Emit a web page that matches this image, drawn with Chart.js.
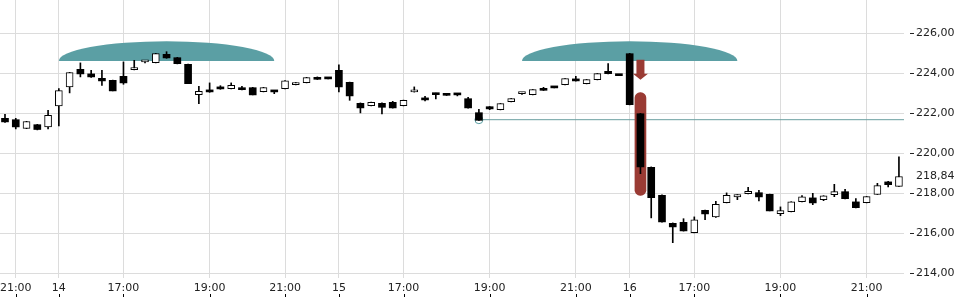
<!DOCTYPE html>
<html><head><meta charset="utf-8">
<script src="https://cdn.jsdelivr.net/npm/chart.js@4.4.1/dist/chart.umd.min.js"></script>
<style>html,body{margin:0;padding:0;background:#fff;overflow:hidden}</style>
</head><body>
<canvas id="c" width="960" height="300" style="display:block;width:960px;height:300px"></canvas>
<script>
// ---- data (15-minute candles) ----
const opens  = [221.75,221.68,221.24,221.43,221.32,222.37,223.32,224.20,223.97,223.75,223.65,223.85,224.18,224.57,224.53,224.95,224.78,224.45,222.93,223.13,223.30,223.23,223.28,223.28,223.08,223.10,223.23,223.43,223.53,223.78,223.75,224.15,223.55,222.50,222.38,222.50,222.55,222.38,223.07,222.75,223.00,222.94,222.95,222.73,222.03,222.33,222.18,222.58,222.98,222.93,223.25,223.30,223.43,223.72,223.48,223.68,224.10,223.91,224.98,221.98,219.30,217.90,216.50,216.55,216.03,217.15,216.82,217.53,217.82,217.98,218.03,217.95,216.98,217.08,217.58,217.77,217.68,217.93,218.08,217.57,217.53,217.95,218.57,218.35];
const highs  = [221.95,221.75,221.60,221.45,222.15,223.23,224.05,224.52,224.15,224.15,223.66,224.57,224.65,224.62,225.00,225.08,224.80,224.46,223.35,223.52,223.38,223.52,223.35,223.30,223.30,223.10,223.63,223.54,223.80,223.82,223.75,224.42,223.56,222.52,222.56,222.52,222.60,222.66,223.32,222.85,223.01,222.95,222.96,222.80,222.20,222.34,222.49,222.74,223.05,223.19,223.30,223.30,223.74,223.85,223.69,223.99,224.48,223.91,225.00,222.00,219.32,217.92,216.52,216.73,216.82,217.16,217.60,218.02,217.94,218.30,218.15,217.96,217.32,217.58,217.88,218.00,217.88,218.45,218.20,217.73,217.84,218.50,218.60,219.82];
const lows   = [221.55,221.22,221.23,221.17,221.22,221.37,223.02,223.82,223.80,223.40,223.12,223.45,224.17,224.52,224.52,224.75,224.47,223.48,222.48,223.05,223.20,223.22,223.17,222.92,223.07,222.98,223.22,223.42,223.52,223.69,223.72,223.07,222.65,222.02,222.37,221.97,222.26,222.37,223.06,222.62,222.72,222.89,222.87,222.26,221.64,222.18,222.17,222.57,222.95,222.92,223.14,223.27,223.42,223.61,223.47,223.67,223.97,223.88,222.42,218.98,216.77,216.56,215.53,216.11,216.02,216.68,216.80,217.52,217.68,217.97,217.62,217.12,216.88,217.07,217.57,217.43,217.63,217.83,217.72,217.27,217.52,217.94,218.32,218.34];
const closes = [221.57,221.32,221.59,221.19,221.90,223.13,224.03,223.97,223.82,223.62,223.12,223.52,224.20,224.60,224.98,224.77,224.48,223.48,223.10,223.07,223.22,223.40,223.18,222.92,223.28,223.07,223.62,223.53,223.78,223.70,223.72,223.32,222.87,222.27,222.55,222.30,222.27,222.65,223.10,222.67,222.93,222.90,222.92,222.27,221.65,222.22,222.48,222.73,223.01,223.18,223.15,223.27,223.73,223.62,223.68,223.98,223.98,223.88,222.43,219.32,217.78,216.57,216.32,216.12,216.67,216.97,217.45,217.90,217.93,218.10,217.82,217.12,217.13,217.57,217.82,217.52,217.87,218.08,217.73,217.28,217.83,218.38,218.43,218.84];

const xTickIndex  = [1,5,11,19,26,31,37,45,53,58,64,72,80];
const xTickLabels = ['21:00','14','17:00','19:00','21:00','15','17:00','19:00','21:00','16','17:00','19:00','21:00'];
const yTicks = [214,216,218,220,222,224,226];
const lastPrice = 218.84;

// annotation values
const patternRanges = [[5,25],[48,68]];
const patternBase = 224.62, patternTop = 225.6;
const signalIndex = 59;
const signalBar = [217.9, 223.03];
const arrowFrom = 224.68, arrowTo = 223.68;
const levelStart = 44, levelValue = 221.68;

// ---- chart ----
const X_MIN = -0.464, X_MAX = 83.47;
const Y_MIN = 213.765, Y_MAX = 227.665;
const idx = opens.map((_, i) => i);
const up = idx.map(i => closes[i] >= opens[i]);
const TEAL = '#5b9fa4', RED = '#9a3b34';

Chart.defaults.font.family = 'DejaVu Sans';

const deco = {
  id: 'deco',
  beforeDatasetsDraw(chart) {
    const {ctx, scales: {x, y}} = chart;
    ctx.save();
    ctx.fillStyle = TEAL;
    patternRanges.forEach(([a, b]) => {
      const x0 = x.getPixelForValue(a), x1 = x.getPixelForValue(b);
      const yb = y.getPixelForValue(patternBase), yt = y.getPixelForValue(patternTop);
      ctx.beginPath();
      ctx.ellipse((x0 + x1) / 2, yb, (x1 - x0) / 2, yb - yt, 0, Math.PI, 2 * Math.PI);
      ctx.closePath();
      ctx.fill();
    });
    ctx.restore();
  },
  afterDatasetsDraw(chart) {
    const {ctx, scales: {x, y}} = chart;
    const cx = x.getPixelForValue(signalIndex);
    const yA = y.getPixelForValue(arrowFrom), yT = y.getPixelForValue(arrowTo);
    const headH = 6, shaftW = 8, headW = 15;
    ctx.save();
    ctx.fillStyle = RED;
    ctx.beginPath();
    ctx.moveTo(cx - shaftW / 2, yA);
    ctx.lineTo(cx + shaftW / 2, yA);
    ctx.lineTo(cx + shaftW / 2, yT - headH);
    ctx.lineTo(cx + headW / 2, yT - headH);
    ctx.lineTo(cx, yT);
    ctx.lineTo(cx - headW / 2, yT - headH);
    ctx.lineTo(cx - shaftW / 2, yT - headH);
    ctx.closePath();
    ctx.fill();
    ctx.restore();
  },
  afterDraw(chart) {
    const {ctx, scales: {x}} = chart;
    ctx.save();
    ctx.strokeStyle = '#000';
    ctx.lineWidth = 1;
    xTickIndex.forEach(v => {
      const px = Math.round(x.getPixelForValue(v)) + 0.5;
      ctx.beginPath();
      ctx.moveTo(px, 294);
      ctx.lineTo(px, 297);
      ctx.stroke();
    });
    ctx.restore();
  }
};

new Chart(document.getElementById('c'), {
  type: 'bar',
  data: {
    datasets: [
      {
        label: 'body',
        data: idx.map(i => ({x: i, y: [opens[i], closes[i]]})),
        order: 0, grouped: false, barThickness: 7, minBarLength: 2,
        backgroundColor: up.map(u => u ? '#ffffff' : '#000000'),
        borderColor: '#000000',
        borderWidth: up.map(u => u ? 1 : 0),
        borderSkipped: false
      },
      {
        label: 'wick',
        data: idx.map(i => ({x: i, y: [lows[i], highs[i]]})),
        order: 1, grouped: false, barThickness: 1, minBarLength: 1,
        backgroundColor: '#000000', borderWidth: 0
      },
      {
        label: 'signal',
        data: [{x: signalIndex, y: signalBar}],
        order: 2, grouped: false, barThickness: 11,
        backgroundColor: RED, borderRadius: 6, borderSkipped: false, borderWidth: 0
      },
      {
        type: 'line',
        label: 'level',
        data: [{x: levelStart, y: levelValue}, {x: X_MAX, y: levelValue}],
        order: 3,
        borderColor: '#6a9fa1', borderWidth: 1, tension: 0,
        pointRadius: [4, 0], pointBorderColor: TEAL, pointBorderWidth: 1,
        pointBackgroundColor: 'rgba(0,0,0,0)'
      }
    ]
  },
  options: {
    responsive: false,
    animation: false,
    devicePixelRatio: 1,
    events: [],
    layout: {padding: 0, autoPadding: false},
    plugins: {legend: {display: false}, tooltip: {enabled: false}},
    scales: {
      x: {
        type: 'linear', min: X_MIN, max: X_MAX, offset: false,
        afterBuildTicks: s => { s.ticks = xTickIndex.map(v => ({value: v})); },
        afterFit: s => { s.height = 22; s.paddingLeft = 0; s.paddingRight = 0; },
        ticks: {
          autoSkip: false, maxRotation: 0, padding: 4, color: '#222',
          font: {size: 11},
          callback: v => { const k = xTickIndex.indexOf(v); return k >= 0 ? xTickLabels[k] : ''; }
        },
        grid: {color: '#dcdcdc', lineWidth: 1, drawTicks: false, offset: false},
        border: {display: false}
      },
      y: {
        type: 'linear', position: 'right', min: Y_MIN, max: Y_MAX,
        afterBuildTicks: s => { s.ticks = yTicks.concat([lastPrice]).map(v => ({value: v})); },
        afterFit: s => { s.width = 56; s.paddingTop = 0; s.paddingBottom = 0; },
        ticks: {
          autoSkip: false, padding: 2, color: '#222', font: {size: 11},
          callback: v => v.toFixed(2).replace('.', ',')
        },
        grid: {
          color: c => (c.tick && c.tick.value === lastPrice) ? 'rgba(0,0,0,0)' : '#dcdcdc',
          tickColor: c => (c.tick && c.tick.value === lastPrice) ? 'rgba(0,0,0,0)' : '#222',
          tickLength: 10, tickBorderDash: [4, 6], tickBorderDashOffset: 4
        },
        border: {display: false}
      }
    }
  },
  plugins: [deco]
});
</script>
</body></html>
